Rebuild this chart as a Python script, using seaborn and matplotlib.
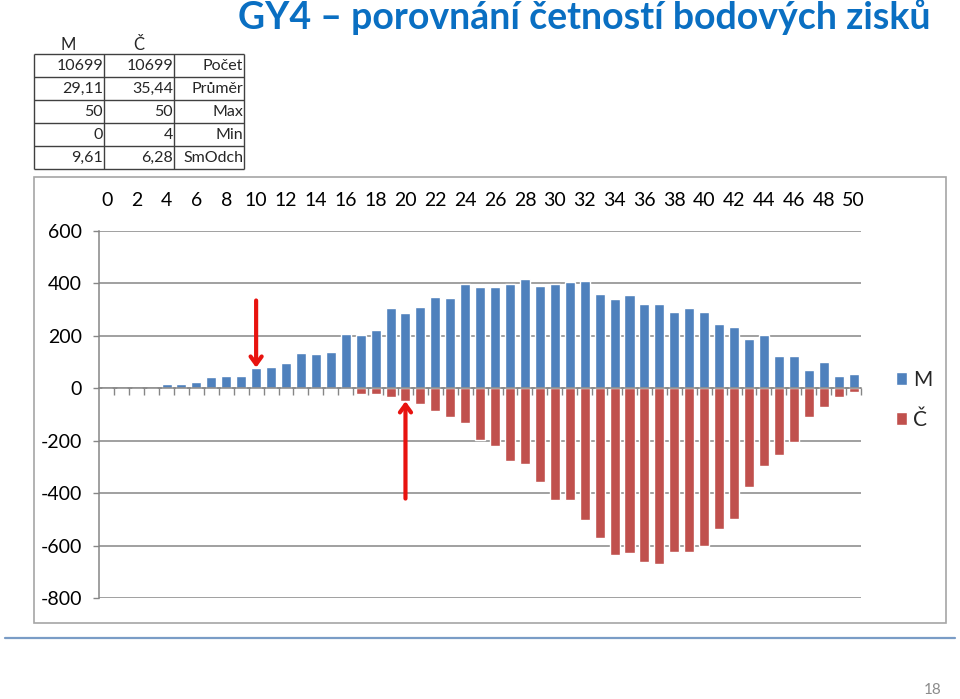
import numpy as np
import pandas as pd
import matplotlib
matplotlib.use("Agg")
import matplotlib.pyplot as plt
import seaborn as sns
from matplotlib.patches import Rectangle, Patch
from matplotlib.lines import Line2D

# ---------------- data ----------------
scores = list(range(51))
m_counts = [1, 1, 2, 2, 16, 16, 22, 41, 46, 46,
            76, 80, 95, 135, 130, 138, 208, 202, 222, 306,
            287, 311, 349, 342, 398, 385, 385, 398, 414, 389,
            398, 404, 410, 359, 340, 356, 320, 320, 291, 306,
            291, 246, 232, 188, 202, 124, 124, 70, 100, 46, 55]
c_counts = [0, 0, 0, 0, 4, 0, 0, 0, 0, 0,
            0, 5, 5, 5, 5, 5, 5, 21, 21, 32,
            50, 60, 86, 110, 134, 199, 222, 278, 288, 358,
            426, 426, 504, 572, 635, 630, 664, 670, 625, 625,
            600, 538, 499, 377, 295, 256, 205, 110, 71, 32, 13]
xtick_labels = [str(s) for s in scores if s % 2 == 0]
yticks = list(range(-800, 601, 200))

stat_names = ["Počet", "Průměr", "Max", "Min", "SmOdch"]
m_stats = ["10699", "29,11", "50", "0", "9,61"]
c_stats = ["10699", "35,44", "50", "4", "6,28"]

title = "GY4 – porovnání četností bodových zisků"
# arrows: (score, tip value, tail value)
arrow_m = (10, 78, 334)
arrow_c = (20, -50, -421)

BLUE = "#4F81BD"
RED = "#C0504D"
GRID = "#868686"

# ---------------- style ----------------
sns.set_style("white")
plt.rcParams["font.family"] = ["Lato", "DejaVu Sans"]
plt.rcParams["axes.unicode_minus"] = False

W, H = 960, 699
fig = plt.figure(figsize=(W / 100, H / 100), dpi=100)

def fx(px):
    return px / W

def fy(py):
    return 1 - py / H

ax = fig.add_axes([fx(99.3), fy(598), fx(861) - fx(99.3), fy(230.7) - fy(598)])

df = pd.DataFrame({
    "score": scores * 2,
    "count": m_counts + [-v for v in c_counts],
    "group": ["M"] * len(scores) + ["Č"] * len(scores),
})
sns.barplot(data=df, x="score", y="count", hue="group", dodge=False,
            palette={"M": BLUE, "Č": RED}, width=0.67, saturation=1,
            errorbar=None, legend=False, ax=ax, zorder=3)

ax.set_xlim(-0.5, len(scores) - 0.5)
ax.set_ylim(min(yticks), max(yticks))
ax.set_yticks(yticks)
ax.set_yticklabels([str(v) for v in yticks])
ax.set_xticks(list(range(0, len(scores), 2)))
ax.set_xticklabels(xtick_labels)
ax.set_xticks(np.arange(0.5, len(scores), 1), minor=True)
ax.set_xlabel("")
ax.set_ylabel("")

ax.yaxis.grid(True, color=GRID, lw=1.1)
ax.set_axisbelow(True)
for s in ["top", "right"]:
    ax.spines[s].set_visible(False)
ax.spines["left"].set_color(GRID)
ax.spines["left"].set_linewidth(1.1)
ax.spines["bottom"].set_color(GRID)
ax.spines["bottom"].set_linewidth(1.1)
ax.spines["bottom"].set_position(("data", 0))
ax.spines["bottom"].set_zorder(4)

ax.tick_params(axis="x", which="major", bottom=False, top=False,
               labelbottom=False, labeltop=True, pad=12, labelsize=14,
               labelcolor="black")
ax.tick_params(axis="x", which="minor", bottom=True, top=False,
               direction="out", length=5, width=1, color=GRID)
ax.tick_params(axis="y", left=True, length=4.5, width=1, color=GRID,
               pad=8, labelsize=14, labelcolor="black")

# arrows
for sc, tip, tail in (arrow_m, arrow_c):
    ax.annotate("", xy=(sc, tip), xytext=(sc, tail),
                arrowprops=dict(arrowstyle="->,head_length=0.55,head_width=0.4",
                                color="#e8130f", lw=3, shrinkA=0, shrinkB=0),
                zorder=6)

# legend
handles = [Patch(facecolor=BLUE), Patch(facecolor=RED)]
ax.legend(handles, ["M", "Č"], loc="center left",
          bbox_to_anchor=(fx(877), fy(400)), bbox_transform=fig.transFigure,
          frameon=False, handlelength=0.55, handleheight=0.55,
          handletextpad=0.3, labelspacing=0.95, fontsize=15)

# chart border
fig.add_artist(Rectangle((fx(34), fy(623)), fx(946) - fx(34), fy(177) - fy(623),
                         transform=fig.transFigure, fill=False,
                         ec="#a6a6a6", lw=1.2))
# bottom slide line
fig.add_artist(Line2D([fx(5), fx(955)], [fy(638), fy(638)],
                      transform=fig.transFigure, color="#7a9cc6", lw=1.6))

# title
fig.text(fx(584), fy(17), title, ha="center", va="center",
         fontsize=27, fontweight="bold", color="#0A6FC2")

# page number
fig.text(fx(933), fy(690), "18", ha="center", va="center",
         fontsize=11, color="#8c8c8c")

# stats table
tab = fig.add_axes([fx(33.7), fy(169), fx(244) - fx(33.7), fy(54) - fy(169)])
tab.set_xlim(0, 3)
tab.set_ylim(len(stat_names), 0)
tab.axis("off")
tab.hlines(range(len(stat_names) + 1), 0, 3, color="#404040", lw=1, clip_on=False)
tab.vlines(range(4), 0, len(stat_names), color="#404040", lw=1, clip_on=False)
for i, (a, b, n) in enumerate(zip(m_stats, c_stats, stat_names)):
    for j, t in enumerate((a, b, n)):
        tab.text(j + 1 - 0.01, i + 0.52, t, ha="right", va="center", fontsize=11.5)
fig.text(fx(61), fy(45), "M", ha="left", va="center", fontsize=12)
fig.text(fx(133), fy(45), "Č", ha="left", va="center", fontsize=12)

fig.savefig("out.png", dpi=100)
